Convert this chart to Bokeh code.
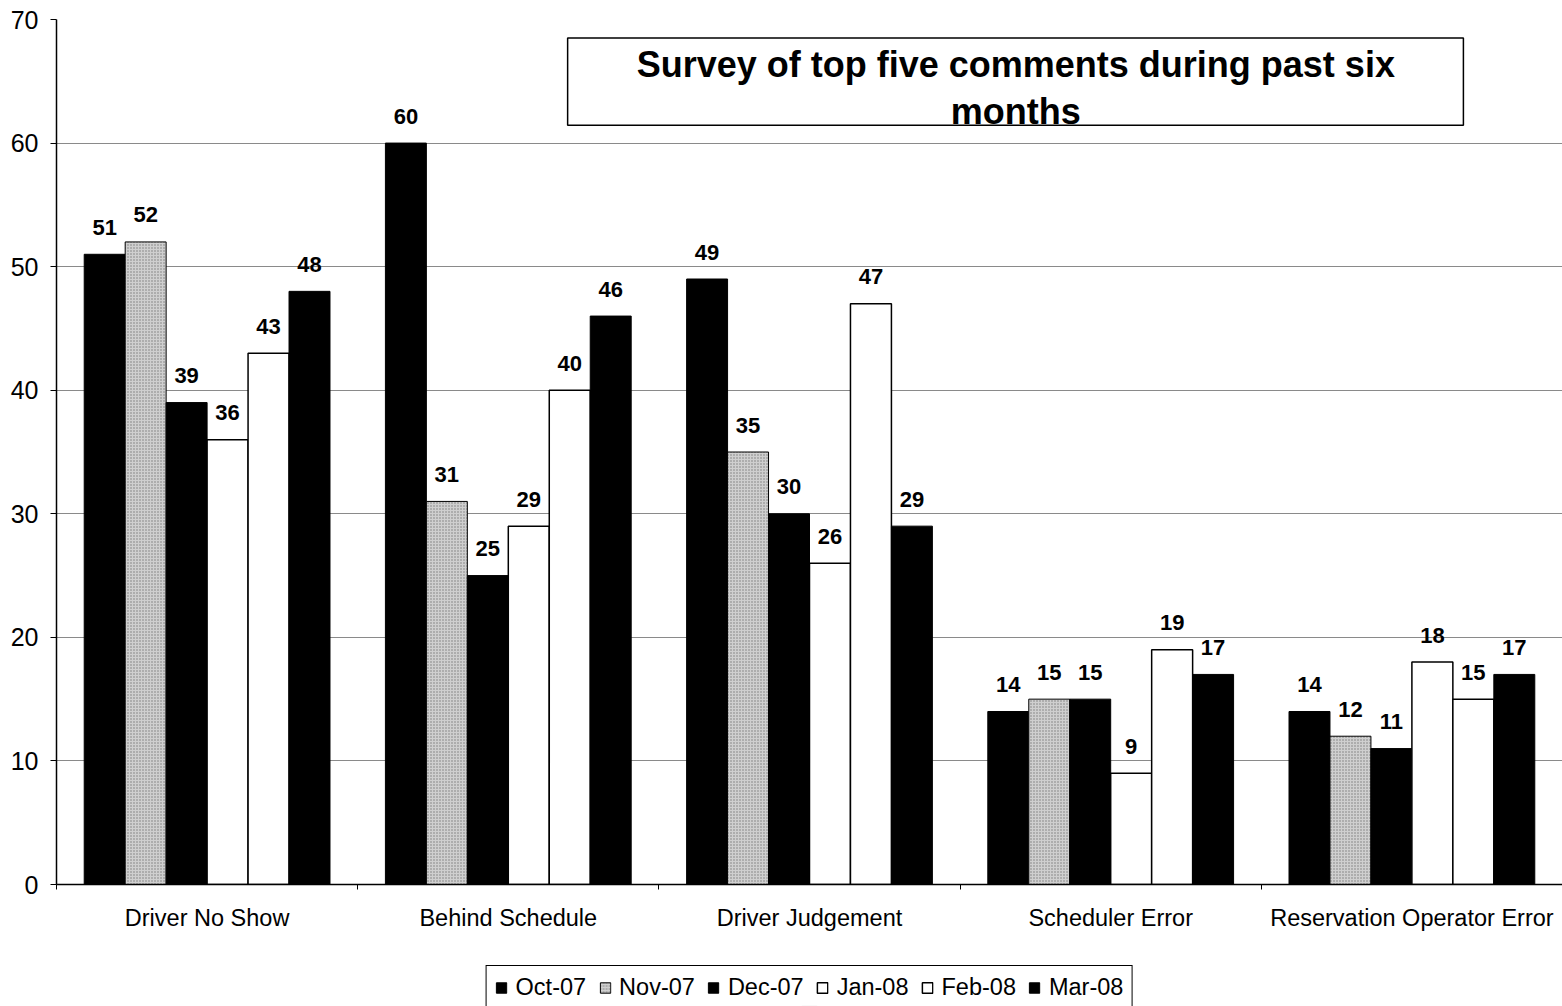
from bokeh.plotting import figure
from bokeh.layouts import column
from bokeh.models import (ColumnDataSource, Range1d, FixedTicker, Legend, LegendItem,
                          Label, BoxAnnotation)
from bokeh.transform import dodge
from bokeh.core.properties import value
from bokeh.embed import file_html
from bokeh.resources import INLINE

categories = ["Driver No Show", "Behind Schedule", "Driver Judgement",
              "Scheduler Error", "Reservation Operator Error"]
months = ["Oct-07", "Nov-07", "Dec-07", "Jan-08", "Feb-08", "Mar-08"]
oct07 = [51, 60, 49, 14, 14]
nov07 = [52, 31, 35, 15, 12]
dec07 = [39, 25, 30, 15, 11]
jan08 = [36, 29, 26, 9, 18]
feb08 = [43, 40, 47, 19, 15]
mar08 = [48, 46, 29, 17, 17]
y_ticks = [0, 10, 20, 30, 40, 50, 60, 70]
title_text = "Survey of top five comments during past six\nmonths"

series = [oct07, nov07, dec07, jan08, feb08, mar08]
fills = ["black", "#cfcfcf", "black", "white", "white", "black"]
hatches = [None, ".", None, None, None, None]

FONT = "Liberation Sans"
n_cat = len(categories)
centers = [i + 0.5 for i in range(n_cat)]
data = {"x": centers, "cat": categories}
for m, s in zip(months, series):
    data[m] = s
    data[m + "_lbl"] = [str(v) for v in s]
source = ColumnDataSource(data)

p = figure(width=1562, height=938, output_backend="svg", toolbar_location=None,
           x_range=Range1d(0, n_cat), y_range=Range1d(0, 70),
           min_border_left=56, min_border_top=19, min_border_right=0,
           min_border_bottom=54)
p.outline_line_color = None
p.background_fill_color = "white"
p.border_fill_color = "white"

# axes
p.xaxis.ticker = FixedTicker(ticks=centers, minor_ticks=list(range(n_cat + 1)))
p.xaxis.major_label_overrides = {c: lab for c, lab in zip(centers, categories)}
p.xaxis.major_tick_line_color = None
p.xaxis.major_tick_out = 0
p.xaxis.minor_tick_out = 5
p.xaxis.minor_tick_in = 0
p.xaxis.minor_tick_line_color = "black"
p.xaxis.major_label_standoff = 15
p.xaxis.major_label_text_font = FONT
p.xaxis.major_label_text_font_size = "23.5px"
p.xaxis.major_label_text_color = "black"
p.xaxis.axis_line_color = "black"
p.xaxis.axis_line_width = 1.5

p.yaxis.ticker = FixedTicker(ticks=y_ticks)
p.yaxis.minor_tick_line_color = None
p.yaxis.major_tick_out = 6
p.yaxis.major_tick_in = 0
p.yaxis.major_label_standoff = 12
p.yaxis.major_label_text_font = FONT
p.yaxis.major_label_text_font_size = "25px"
p.yaxis.major_label_text_color = "black"
p.yaxis.axis_line_color = "black"
p.yaxis.axis_line_width = 1.5

p.xgrid.grid_line_color = None
p.ygrid.grid_line_color = "#8a8a8a"
p.ygrid.grid_line_width = 1

bar_w = 0.136


def bar_style(k):
    kw = dict(fill_color=fills[k], line_color="black",
              line_width=1.5 if fills[k] == "white" else 1)
    if hatches[k]:
        kw.update(hatch_pattern=hatches[k], hatch_color="#555555",
                  hatch_scale=3, hatch_weight=1, hatch_alpha=0.7)
    return kw


for k, m in enumerate(months):
    off = (k - 2.5) * bar_w
    p.vbar(x=dodge("x", off, range=p.x_range), top=m, width=bar_w,
           source=source, **bar_style(k))
    p.text(x=dodge("x", off, range=p.x_range), y=m, text=m + "_lbl", source=source,
           text_font=value(FONT), text_font_style="bold", text_font_size="22px",
           text_align="center", text_baseline="alphabetic", y_offset=-27,
           text_color="black")

# title box
box = BoxAnnotation(left=1.697, right=4.671, bottom=61.45, top=68.5,
                    fill_color="white", fill_alpha=1.0,
                    line_color="black", line_alpha=1.0, line_width=1.5)
p.add_layout(box)
title = Label(x=3.185, y=64.45, text=title_text, text_align="center",
              text_baseline="middle", text_font=FONT, text_font_style="bold",
              text_font_size="36px", text_color="black", text_line_height=1.13)
p.add_layout(title)

# legend strip (swatch renderers sit below the visible range)
leg_src = ColumnDataSource({"x": [0.5], "top": [-5.0], "bottom": [-6.0]})
pl = figure(width=1562, height=68, output_backend="svg", toolbar_location=None,
            x_range=Range1d(0, 1), y_range=Range1d(0, 1),
            x_axis_location=None, y_axis_location=None,
            min_border_left=56, min_border_right=0, min_border_top=0,
            min_border_bottom=0)
pl.outline_line_color = None
pl.xgrid.visible = False
pl.ygrid.visible = False
leg_rs = [pl.vbar(x="x", top="top", bottom="bottom", width=0.01, source=leg_src,
                  **bar_style(k))
          for k in range(len(months))]
legend = Legend(items=[LegendItem(label=m, renderers=[r]) for m, r in zip(months, leg_rs)],
                orientation="horizontal", location="top_center",
                label_text_font=FONT, label_text_font_size="23.5px",
                label_text_color="black",
                glyph_width=13, glyph_height=13, label_standoff=8, spacing=12,
                padding=8, margin=27, border_line_color="black",
                border_line_alpha=1.0, border_line_width=1.5)
pl.add_layout(legend)

layout = column(p, pl, spacing=0)
open("out.html", "w").write(file_html(layout, INLINE))
